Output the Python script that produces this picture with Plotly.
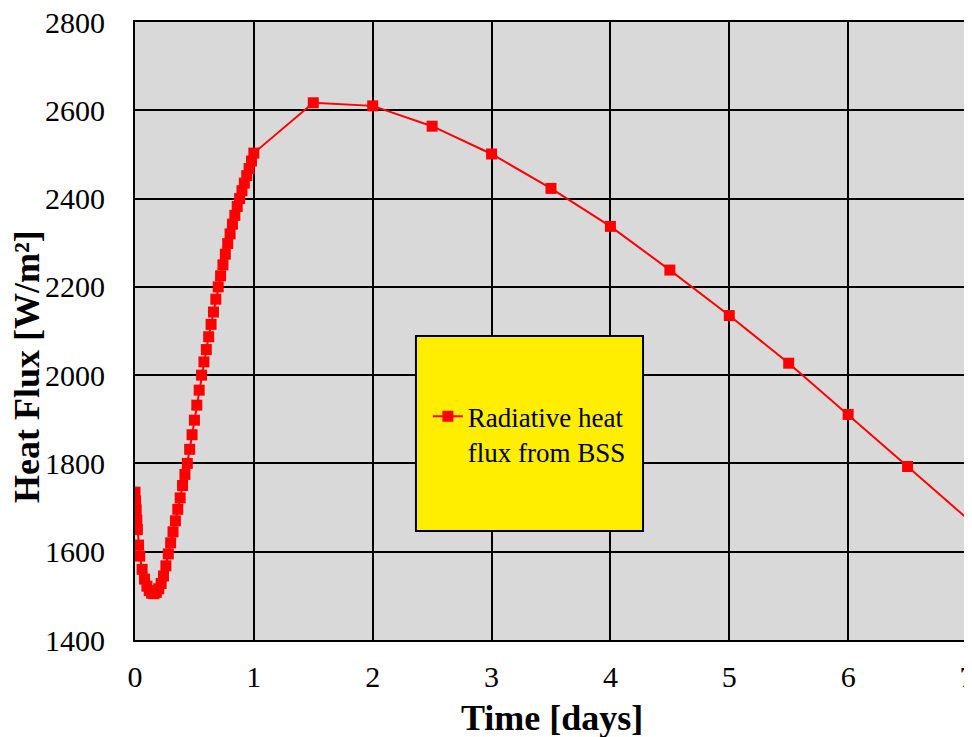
import plotly.graph_objects as go

# Time [days]
time_days = [0, 0.005, 0.01, 0.015, 0.02, 0.03, 0.04, 0.06, 0.08, 0.10, 0.12, 0.14, 0.16, 0.18,
             0.20, 0.22, 0.24, 0.26, 0.28, 0.30, 0.32, 0.34, 0.36, 0.38, 0.40, 0.42, 0.44, 0.46,
             0.48, 0.50, 0.52, 0.54, 0.56, 0.58, 0.60, 0.62, 0.64, 0.66, 0.68, 0.70, 0.72, 0.74,
             0.76, 0.78, 0.80, 0.82, 0.84, 0.86, 0.88, 0.90, 0.92, 0.94, 0.96, 0.98, 1.00,
             1.5, 2.0, 2.5, 3.0, 3.5, 4.0, 4.5, 5.0, 5.5, 6.0, 6.5, 7.5]
# Heat flux [W/m2]
heat_flux = [1735, 1715, 1695, 1672, 1650, 1615, 1590, 1560, 1538, 1522, 1512, 1506, 1505, 1508,
             1516, 1528, 1545, 1568, 1595, 1620, 1645, 1670, 1696, 1722, 1750, 1775, 1800, 1832,
             1865, 1898, 1932, 1966, 2000, 2030, 2058, 2087, 2115, 2143, 2172, 2200, 2225, 2250,
             2274, 2298, 2320, 2342, 2362, 2382, 2400, 2418, 2435, 2452, 2468, 2485, 2503,
             2617, 2610, 2564, 2501, 2423, 2337, 2238, 2135, 2027, 1911, 1793, 1558]

series_name = "Radiative heat<br>flux from BSS"
x_ticks = [0, 1, 2, 3, 4, 5, 6, 7]
y_ticks = [1400, 1600, 1800, 2000, 2200, 2400, 2600, 2800]
x_title = "Time [days]"
y_title = "Heat Flux [W/m²]"

FONT = "Liberation Serif, Times New Roman, serif"

fig = go.Figure()
fig.add_trace(go.Scatter(
    x=time_days, y=heat_flux, mode="lines+markers", name=series_name,
    line=dict(color="#ff0000", width=2),
    marker=dict(symbol="square", size=11, color="#ff0000"),
    showlegend=True,
))

# yellow legend box
fig.add_shape(type="rect", xref="paper", yref="paper",
              x0=0.3377, x1=0.6106, y0=0.1764, y1=0.4919,
              fillcolor="#ffee00", line=dict(color="black", width=2), layer="above")

# axis titles
fig.add_annotation(text="<b>" + x_title + "</b>", xref="paper", yref="paper",
                   x=0.501, y=-0.126, xanchor="center", yanchor="middle", showarrow=False,
                   font=dict(family=FONT, size=36, color="black"))
fig.add_annotation(text="<b>" + y_title + "</b>", xref="paper", yref="paper",
                   x=-0.1298, y=0.4417, xanchor="center", yanchor="middle", showarrow=False,
                   textangle=-90, font=dict(family=FONT, size=36, color="black"))

fig.update_layout(
    width=972, height=737,
    margin=dict(l=127, r=13, t=14, b=105, autoexpand=False),
    paper_bgcolor="white",
    plot_bgcolor="#d9d9d9",
    font=dict(family=FONT, size=30, color="black"),
    showlegend=True,
    legend=dict(x=0.352, y=0.333, xanchor="left", yanchor="middle", valign="top",
                bgcolor="rgba(0,0,0,0)", font=dict(family=FONT, size=27, color="black"),
                itemwidth=30, tracegroupgap=0),
    xaxis=dict(range=[0, 7], tickvals=x_ticks, ticktext=[str(v) for v in x_ticks],
               showgrid=True, gridcolor="black", gridwidth=2,
               showline=True, linecolor="black", linewidth=2, mirror=True,
               zeroline=False, ticks="", ticklen=0, automargin=False,
               ticklabelstandoff=9, ticklabeloverflow="allow",
               tickfont=dict(family=FONT, size=30, color="black")),
    yaxis=dict(range=[1400, 2800], tickvals=y_ticks, ticktext=[str(v) for v in y_ticks],
               showgrid=True, gridcolor="black", gridwidth=2,
               showline=True, linecolor="black", linewidth=2, mirror=True,
               zeroline=False, ticks="", ticklen=0, automargin=False,
               ticklabelstandoff=22, ticklabeloverflow="allow",
               tickfont=dict(family=FONT, size=30, color="black")),
)

fig.write_html("out.html")
